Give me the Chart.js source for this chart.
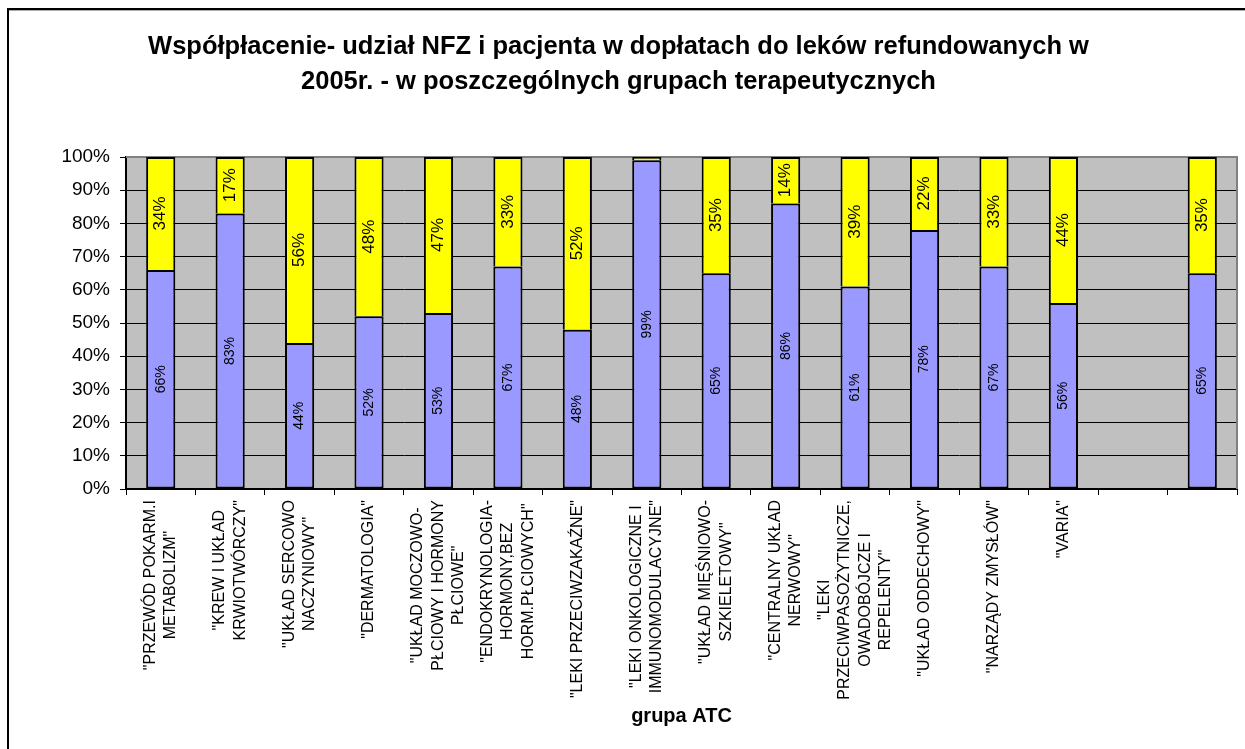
<!DOCTYPE html>
<html><head><meta charset="utf-8">
<script src="https://cdn.jsdelivr.net/npm/chart.js@4.4.1/dist/chart.umd.min.js"></script>
<style>
html,body{margin:0;padding:0;background:#fff;overflow:hidden;}
#wrap{position:relative;width:1245px;height:749px;overflow:hidden;}
#frame{position:absolute;left:7px;top:8px;width:1400px;height:900px;border-left:2px solid #000;border-top:2px solid #000;}
#frame2{position:absolute;left:9px;top:10px;width:1400px;height:1px;background:#aaa;}
canvas{position:absolute;left:0;top:0;}
</style>
</head><body>
<div id="wrap"><div id="frame"></div><div id="frame2"></div><canvas id="c" width="1245" height="749"></canvas></div>
<script>
const FONT = "'Liberation Sans', Arial, sans-serif";
const titleLines = ['Współpłacenie- udział NFZ i pacjenta w dopłatach do leków refundowanych w', '2005r. - w poszczególnych grupach terapeutycznych'];
const xAxisTitle = 'grupa ATC';
const categories = [
  ['"PRZEWÓD POKARM.I', 'METABOLIZM"'],
  ['"KREW I UKŁAD', 'KRWIOTWÓRCZY"'],
  ['"UKŁAD SERCOWO', 'NACZYNIOWY"'],
  ['"DERMATOLOGIA"'],
  ['"UKŁAD MOCZOWO-', 'PŁCIOWY I HORMONY', 'PŁCIOWE"'],
  ['"ENDOKRYNOLOGIA-', 'HORMONY,BEZ', 'HORM.PŁCIOWYCH"'],
  ['"LEKI PRZECIWZAKAŹNE"'],
  ['"LEKI ONKOLOGICZNE I', 'IMMUNOMODULACYJNE"'],
  ['"UKŁAD MIĘŚNIOWO-', 'SZKIELETOWY"'],
  ['"CENTRALNY UKŁAD', 'NERWOWY"'],
  ['"LEKI', 'PRZECIWPASOŻYTNICZE,', 'OWADOBÓJCZE I', 'REPELENTY"'],
  ['"UKŁAD ODDECHOWY"'],
  ['"NARZĄDY ZMYSŁÓW"'],
  ['"VARIA"'],
  [''],
  ['']
];
const nfzShare     = [66, 83, 44, 52, 53, 67, 48, 99, 65, 86, 61, 78, 67, 56, null, 65];
const patientShare = [34, 17, 56, 48, 47, 33, 52,  1, 35, 14, 39, 22, 33, 44, null, 35];
const yTickValues = [0,10,20,30,40,50,60,70,80,90,100];

const plotBg = {
  id:'plotBg',
  beforeDraw(chart){
    const {ctx, chartArea:a} = chart;
    ctx.save(); ctx.fillStyle = '#C0C0C0';
    ctx.fillRect(a.left, a.top, a.right - a.left, a.bottom - a.top);
    ctx.restore();
  },
  beforeDatasetsDraw(chart){
    const {ctx, chartArea:a} = chart;
    ctx.save(); ctx.strokeStyle = '#808080'; ctx.lineWidth = 2;
    ctx.beginPath();
    ctx.moveTo(a.left, a.top); ctx.lineTo(a.right, a.top); ctx.lineTo(a.right, a.bottom);
    ctx.stroke(); ctx.restore();
  }
};

const barLabels = {
  id:'barLabels',
  afterDatasetsDraw(chart){
    const ctx = chart.ctx;
    chart.data.datasets.forEach((ds, di) => {
      const meta = chart.getDatasetMeta(di);
      meta.data.forEach((el, i) => {
        const v = ds.data[i];
        if (v == null || v < 5) return;
        const p = el.getProps(['x','y','base'], true);
        const cy = (p.y + p.base) / 2;
        ctx.save();
        ctx.translate(p.x, cy);
        ctx.rotate(-Math.PI/2);
        ctx.font = ds.labelFontSize + 'px ' + FONT;
        ctx.fillStyle = '#000';
        ctx.textAlign = 'center'; ctx.textBaseline = 'middle';
        ctx.fillText(v + '%', 0, 0);
        ctx.restore();
      });
    });
  }
};

const catLabels = {
  id:'catLabels',
  afterDraw(chart){
    const ctx = chart.ctx, xs = chart.scales.x;
    const lh = 20.5, top = 500;
    ctx.save();
    ctx.font = '16px ' + FONT;
    ctx.fillStyle = '#000';
    ctx.textAlign = 'center'; ctx.textBaseline = 'middle';
    categories.forEach((lines, i) => {
      const x = xs.getPixelForTick(i);
      let maxW = 0;
      lines.forEach(l => { maxW = Math.max(maxW, ctx.measureText(l).width); });
      ctx.save();
      ctx.translate(x, top + maxW/2);
      ctx.rotate(-Math.PI/2);
      lines.forEach((l, j) => {
        ctx.fillText(l, 0, (j - (lines.length - 1)/2) * lh);
      });
      ctx.restore();
    });
    ctx.restore();
  }
};

new Chart(document.getElementById('c'), {
  type:'bar',
  data:{
    labels: categories,
    datasets:[
      {label:'NFZ', data:nfzShare, backgroundColor:'#9999FF', borderColor:'#000', borderWidth:2, borderSkipped:false, barPercentage:0.42, categoryPercentage:1, labelFontSize:14},
      {label:'Pacjent', data:patientShare, backgroundColor:'#FFFF00', borderColor:'#000', borderWidth:2, borderSkipped:'start', barPercentage:0.42, categoryPercentage:1, labelFontSize:17}
    ]
  },
  options:{
    responsive:false, animation:false, devicePixelRatio:1,
    layout:{padding:{left:0, right:8, top:0, bottom:0}},
    plugins:{
      legend:{display:false}, tooltip:{enabled:false},
      title:{display:true, text:titleLines, color:'#000',
        font:{family:FONT, size:25.5, weight:'bold', lineHeight:'35px'},
        padding:{top:29, bottom:58}}
    },
    scales:{
      x:{
        stacked:true,
        grid:{display:true, drawOnChartArea:false, drawTicks:true, tickLength:6, color:'#000', offset:true},
        border:{color:'#000', width:2},
        ticks:{display:false},
        title:{display:true, text:xAxisTitle, color:'#000', font:{family:FONT, size:20, weight:'bold', lineHeight:1.2}, padding:{top:0, bottom:21}},
        afterFit(s){ s.height = 260; }
      },
      y:{
        stacked:true, min:0, max:100,
        afterBuildTicks(s){ s.ticks = yTickValues.map(v => ({value:v})); },
        ticks:{callback:v => v + '%', color:'#000', font:{family:FONT, size:19}, padding:10},
        grid:{color:'#000', lineWidth:1, tickLength:6, drawTicks:true},
        border:{color:'#000', width:2},
        afterFit(s){ s.width = 126; }
      }
    }
  },
  plugins:[plotBg, barLabels, catLabels]
});
</script>
</body></html>
